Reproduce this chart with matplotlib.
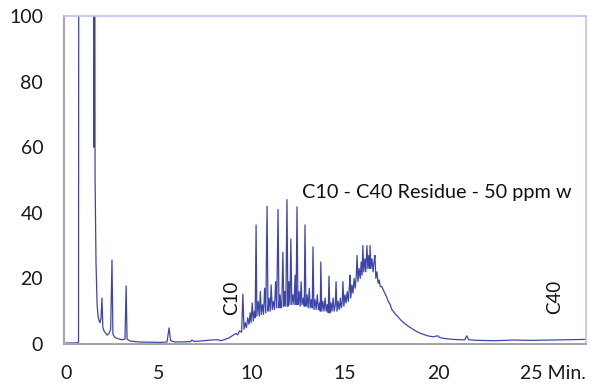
import matplotlib
matplotlib.use("Agg")
import matplotlib.pyplot as plt

# digitised chromatogram (minutes, intensity); values > 100 are off-scale
time_min = [
    0.00, 0.39, 0.67, 0.70, 0.73, 1.18, 1.43, 1.45, 1.49, 1.52, 1.56, 1.61,
    1.67, 1.72, 1.78, 1.83, 1.88, 1.93, 1.98, 2.04, 2.10, 2.21, 2.31, 2.40,
    2.47, 2.52, 2.63, 2.80, 3.01, 3.17, 3.23, 3.28, 3.44, 3.98, 5.06, 5.43,
    5.54, 5.62, 5.86, 6.68, 6.77, 6.87, 7.21, 7.76, 8.15, 8.34, 8.74, 8.93,
    9.13, 9.23, 9.33, 9.44, 9.51, 9.57,
    9.64, 9.70, 9.77, 9.84, 9.90, 9.95, 10.01, 10.07, 10.13, 10.17, 10.22,
    10.26, 10.33, 10.39, 10.45, 10.50, 10.56, 10.62, 10.68, 10.74, 10.81,
    10.86, 10.92, 10.98, 11.03, 11.09, 11.15, 11.21, 11.27, 11.33, 11.40,
    11.45, 11.51, 11.55, 11.60, 11.66, 11.71, 11.76, 11.82, 11.88, 11.93,
    11.98, 12.04, 12.09, 12.14, 12.20, 12.26, 12.32, 12.37, 12.42, 12.47,
    12.53, 12.59, 12.64, 12.69, 12.76, 12.81, 12.85, 12.90, 12.96, 13.02,
    13.08, 13.13, 13.19, 13.24, 13.28, 13.33, 13.39, 13.45, 13.51, 13.57,
    13.63, 13.67, 13.70, 13.75, 13.81, 13.87, 13.93, 13.99, 14.05, 14.10,
    14.14, 14.19, 14.24, 14.30, 14.36, 14.42, 14.48, 14.52, 14.57, 14.63,
    14.69, 14.75, 14.80, 14.85, 14.89, 14.94, 15.00, 15.06, 15.12, 15.18,
    15.23, 15.27, 15.31, 15.37, 15.43, 15.49, 15.55, 15.61, 15.65, 15.70,
    15.76, 15.82, 15.87, 15.92, 15.96, 16.01, 16.07, 16.12, 16.18, 16.23,
    16.28, 16.32, 16.35, 16.39, 16.45, 16.51, 16.56, 16.61, 16.66, 16.72,
    16.78, 16.84, 16.90, 16.98, 17.06, 17.14, 17.23, 17.33, 17.43, 17.52,
    17.62, 17.72, 17.82, 17.97, 18.11, 18.26, 18.46, 18.65, 18.85, 19.04,
    19.24, 19.44, 19.73, 20.00, 20.08, 20.32, 20.62, 21.11, 21.45, 21.55,
    21.65, 22.09, 23.07, 24.05, 25.03, 26.01, 27.00, 27.98,
]
intensity = [
    0.3, 0.3, 0.4, 300.0, 300.0, 300.0, 300.0, 300.0, 60.0, 300.0, 51.0, 25.0,
    12.0, 8.5, 7.0, 6.5, 8.0, 14.0, 5.0, 4.0, 3.5, 2.7, 3.2, 4.5,
    25.6, 3.0, 2.0, 1.6, 1.3, 1.5, 17.7, 1.5, 0.9, 0.6, 0.5, 0.6,
    4.9, 1.0, 0.6, 0.7, 1.2, 0.8, 0.9, 1.2, 1.3, 1.0, 1.8, 2.5,
    3.2, 2.8, 4.0, 3.6, 15.2, 4.5,
    6.5, 5.0, 8.0, 6.0, 9.5, 6.5, 12.5, 7.0, 10.0, 8.0, 36.3,
    8.5, 13.0, 8.5, 16.0, 9.0, 12.0, 9.0, 17.0, 9.5, 42.0,
    10.0, 14.0, 10.0, 18.0, 10.5, 13.0, 10.5, 19.0, 11.0, 41.0,
    11.0, 15.0, 11.0, 11.5, 28.0, 11.5, 16.0, 11.5, 44.0, 11.5,
    19.0, 12.0, 32.0, 12.0, 15.0, 12.0, 21.0, 12.0, 41.8, 12.0,
    16.0, 11.5, 19.0, 12.0, 14.0, 11.5, 36.3, 11.5, 15.0, 11.0,
    17.0, 11.0, 13.5, 11.0, 29.6, 10.5, 13.5, 10.5, 15.0, 10.5,
    12.5, 10.0, 25.0, 10.0, 13.0, 10.0, 14.0, 10.0, 12.0, 9.5,
    20.7, 9.5, 12.5, 10.0, 14.0, 10.0, 12.0, 19.0, 10.0, 13.0,
    10.5, 14.0, 11.0, 12.5, 19.0, 11.5, 15.0, 12.5, 16.0, 13.0,
    17.0, 21.0, 14.0, 18.0, 15.5, 20.0, 17.0, 21.0, 27.0, 19.0,
    23.0, 20.0, 25.0, 21.0, 30.0, 22.0, 26.0, 22.0, 30.0, 23.0,
    27.0, 23.0, 30.0, 23.0, 26.0, 22.0, 25.0, 27.0, 20.0, 22.0,
    18.5, 19.5, 17.5, 17.5, 16.5, 15.5, 14.5, 13.0, 12.0, 10.5,
    9.8, 9.0, 8.5, 7.5, 6.7, 6.0, 5.2, 4.5, 3.8, 3.3,
    2.9, 2.5, 2.2, 2.5, 2.0, 1.7, 1.5, 1.3, 1.3, 2.5,
    1.3, 1.1, 1.0, 1.2, 1.1, 1.2, 1.3, 1.4,
]

x_ticks = [0, 5, 10, 15, 20, 25]
x_labels = ["0", "5", "10", "15", "20", ""]   # "25 Min." is drawn as one text
y_ticks = [0, 20, 40, 60, 80, 100]

TRACE = "#3d46a8"
INK = "#1a1a1a"

fig = plt.figure(figsize=(5.91, 3.89), dpi=100)
ax = fig.add_axes([0.1083, 0.1157, 0.8832, 0.8432])

ax.plot(time_min, intensity, color=TRACE, linewidth=0.9)

ax.set_xlim(-0.11, 27.96)
ax.set_ylim(0, 100)
ax.set_xticks(x_ticks)
ax.set_xticklabels(x_labels)
ax.set_yticks(y_ticks)
ax.tick_params(length=0, labelsize=14, labelcolor=INK)
ax.tick_params(axis="y", pad=15)
ax.tick_params(axis="x", pad=15)
for lbl in ax.get_xticklabels() + ax.get_yticklabels():
    lbl.set_fontfamily("Lato")

# axis box: grey left/bottom, light blue top/right
for side in ("left", "bottom"):
    ax.spines[side].set_color("#a6a6a6")
    ax.spines[side].set_linewidth(1.5)
for side in ("top", "right"):
    ax.spines[side].set_color("#b8c4ee")
    ax.spines[side].set_linewidth(1.2)

ax.text(12.69, 44.5, "C10 - C40 Residue - 50 ppm w", fontsize=14.3,
        family="Lato", va="baseline", ha="left", color="#111111")
ax.text(8.92, 14.0, "C10", rotation=90, fontsize=13.5, family="Lato",
        va="center", ha="center", color="#111111")
ax.text(26.29, 14.3, "C40", rotation=90, fontsize=13.5, family="Lato",
        va="center", ha="center", color="#111111")
# same offset as the tick labels so it sits on their line
ax.annotate("25 Min.", xy=(24.41, 0), xycoords=("data", "axes fraction"),
            xytext=(0, -15), textcoords="offset points", va="top", ha="left",
            fontsize=14, family="Lato", color=INK, annotation_clip=False)

fig.savefig("out.png", dpi=100)
